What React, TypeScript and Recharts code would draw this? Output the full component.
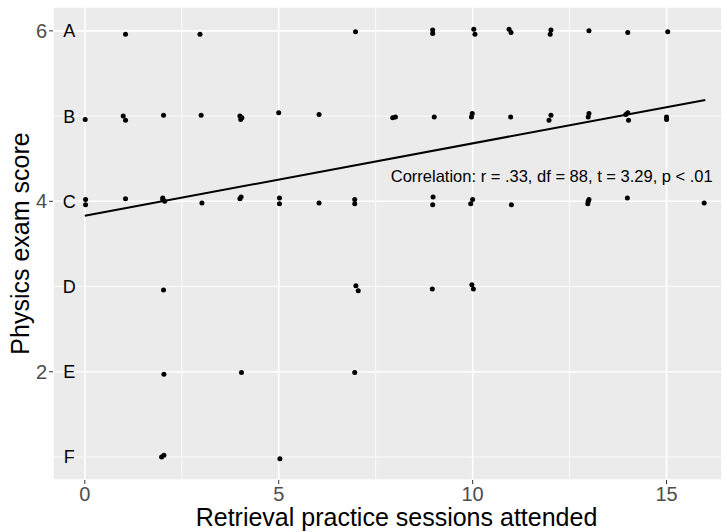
import { ScatterChart, Scatter, XAxis, YAxis, CartesianGrid, ReferenceLine } from "recharts"

// jittered points: [sessions, score]
const gradeA: [number, number][] = [
  [1.05, 5.96], [2.97, 5.96], [6.98, 5.99], [8.97, 6.01], [8.97, 5.97],
  [10.03, 6.02], [10.06, 5.96], [10.94, 6.02], [10.99, 5.98], [12.02, 6.01],
  [12.0, 5.96], [13.0, 6.0], [14.0, 5.98], [15.03, 5.99],
]
const gradeB: [number, number][] = [
  [0.01, 4.96], [0.99, 5.0], [1.05, 4.95], [2.03, 5.01], [3.0, 5.01],
  [4.0, 5.0], [4.02, 4.96], [4.05, 4.98], [5.0, 5.04], [6.04, 5.02],
  [7.94, 4.98], [8.01, 4.99], [9.01, 4.99], [9.99, 5.03], [9.97, 4.99],
  [10.98, 4.99], [12.02, 5.01], [11.97, 4.95], [13.0, 5.03], [12.98, 4.99],
  [14.0, 5.04], [14.02, 4.95], [13.95, 5.02], [15.0, 4.99], [15.0, 4.96],
]
const gradeC: [number, number][] = [
  [0.02, 4.02], [0.02, 3.96], [1.05, 4.03], [2.01, 4.04], [2.01, 4.02],
  [2.06, 4.0], [3.02, 3.98], [4.0, 4.03], [4.03, 4.05], [5.02, 4.04],
  [5.02, 3.97], [6.04, 3.98], [6.96, 4.02], [6.96, 3.97], [8.98, 4.05],
  [8.97, 3.96], [10.0, 4.02], [9.95, 3.97], [11.0, 3.96], [13.0, 4.02],
  [12.97, 3.97], [12.98, 4.0], [13.99, 4.04], [15.97, 3.98],
]
const gradeD: [number, number][] = [
  [2.03, 2.96], [6.99, 3.01], [7.05, 2.95], [8.96, 2.97], [9.98, 3.02], [10.02, 2.97],
]
const gradeE: [number, number][] = [
  [2.04, 1.97], [4.04, 1.99], [6.96, 1.99],
]
const gradeF: [number, number][] = [
  [1.98, 1.0], [2.04, 1.02], [5.03, 0.98],
]

const gradeLetters = ["A", "B", "C", "D", "E", "F"]
const gradeLevels = [6, 5, 4, 3, 2, 1]
const letterX = -0.4

const xTicks = [0, 5, 10, 15]
const yTicks = [2, 4, 6]
const xMinor = [2.5, 7.5, 12.5]
const yMinor = [1, 3, 5]

// fitted line end points
const fitX = [0, 16]
const fitY = [3.83, 5.19]

const corrText = "Correlation: r = .33, df = 88, t = 3.29, p < .01"
const corrPos = { x: 12.04, y: 4.3 }

const font = "'Liberation Sans', Arial, sans-serif"

const points = [...gradeA, ...gradeB, ...gradeC, ...gradeD, ...gradeE, ...gradeF].map(([x, y]) => ({ x, y }))
const letters = gradeLetters.map((label, i) => ({ x: letterX, y: gradeLevels[i], label }))
const corr = [{ ...corrPos, label: corrText }]

const Dot = (props: any) => <circle cx={props.cx} cy={props.cy} r={2.5} fill="#000" />

const TextMark = (size: number) => (props: any) => (
  <text
    x={props.cx}
    y={props.cy}
    dy="0.36em"
    textAnchor="middle"
    fontSize={size}
    fontFamily={font}
    fill="#000"
  >
    {props.payload.label}
  </text>
)

export default function App() {
  return (
    <div style={{ position: "absolute", left: 0, top: 0, background: "#fff", fontFamily: font }}>
      <ScatterChart width={727} height={532} margin={{ top: 7, right: 5, bottom: 0, left: 0 }}>
        <CartesianGrid fill="#EBEBEB" stroke="#FFFFFF" strokeWidth={1.6} />
        <XAxis
          type="number"
          dataKey="x"
          domain={[-0.82, 16.43]}
          allowDataOverflow
          ticks={xTicks}
          height={52}
          axisLine={false}
          tickSize={4}
          tickMargin={3}
          tickLine={{ stroke: "#333333" }}
          tick={{ fill: "#4D4D4D", fontSize: 20, fontFamily: font }}
          label={{
            value: "Retrieval practice sessions attended",
            position: "insideBottom",
            offset: 6,
            dx: 9,
            fill: "#000",
            fontSize: 25,
            fontFamily: font,
          }}
        />
        <YAxis
          type="number"
          dataKey="y"
          domain={[0.73, 6.28]}
          allowDataOverflow
          ticks={yTicks}
          width={53}
          axisLine={false}
          tickSize={4}
          tickMargin={2}
          tickLine={{ stroke: "#333333" }}
          tick={{ fill: "#4D4D4D", fontSize: 20, fontFamily: font }}
          label={{
            value: "Physics exam score",
            angle: -90,
            position: "insideLeft",
            offset: 20,
            fill: "#000",
            fontSize: 25,
            fontFamily: font,
            style: { textAnchor: "middle" },
          }}
        />
        {xMinor.map((v) => (
          <ReferenceLine key={"mx" + v} x={v} stroke="#FFFFFF" strokeWidth={0.8} />
        ))}
        {yMinor.map((v) => (
          <ReferenceLine key={"my" + v} y={v} stroke="#FFFFFF" strokeWidth={0.8} />
        ))}
        <Scatter data={points} shape={Dot} isAnimationActive={false} />
        <ReferenceLine
          segment={[
            { x: fitX[0], y: fitY[0] },
            { x: fitX[1], y: fitY[1] },
          ]}
          stroke="#000"
          strokeWidth={2}
        />
        <Scatter data={letters} shape={TextMark(18)} isAnimationActive={false} />
        <Scatter data={corr} shape={TextMark(16.5)} isAnimationActive={false} />
      </ScatterChart>
    </div>
  )
}
